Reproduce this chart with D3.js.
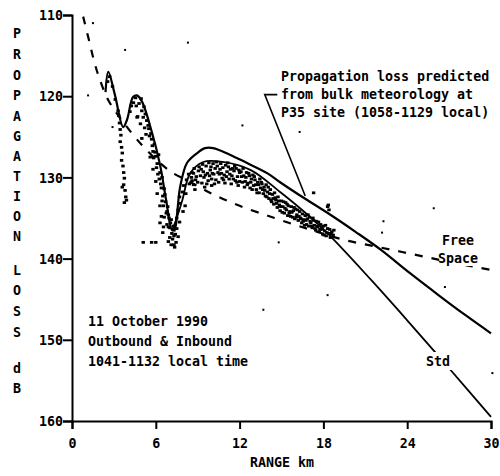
<!DOCTYPE html>
<html><head><meta charset="utf-8">
<script src="https://cdn.jsdelivr.net/npm/d3@7"></script>
<style>
html,body{margin:0;padding:0;background:#fff;}
text{font-family:"DejaVu Sans Mono","Liberation Mono",monospace;font-weight:bold;fill:#000;}
</style></head>
<body><svg id="chart" width="500" height="476"></svg>
<script>
// ---- data (range km, propagation loss dB) ----
const xTicks = [0, 6, 12, 18, 24, 30];
const yTicks = [110, 120, 130, 140, 150, 160];
const yTitle = "PROPAGATION LOSS dB";
const xTitle = "RANGE km";

const predicted = [[2.4,119.5],[2.6,117.0],[3.08,119.9],[3.66,123.8],[3.94,122.9],[4.37,120.1],[4.66,119.9],[5.02,120.7],[5.73,124.5],[6.31,128.5],[6.74,132.8],[7.17,136.5],[7.38,136.2],[7.53,134.4],[7.74,131.2],[8.24,128.2],[8.96,127.0],[9.53,126.4],[10.1,126.4],[11.3,127.2],[12.5,128.2],[14.0,129.5],[14.9,130.6],[16.3,132.2],[18.5,134.6],[20.3,136.7],[22.1,138.9],[24.2,141.8],[26.4,144.7],[28.2,147.0],[30.0,149.2]];

const standard = [[7.17,136.5],[7.5,135.0],[7.9,132.8],[8.46,129.5],[9.4,128.1],[10.8,128.1],[12.8,129.1],[14.9,131.8],[16.6,134.2],[18.3,136.9],[21.4,142.6],[24.0,147.6],[27.0,153.5],[30.0,159.5]];

const freeSpace = [[0.8,110.2],[1.2,113.0],[1.6,115.8],[2.0,118.0],[2.6,120.5],[3.5,122.8],[5.0,126.0],[7.0,129.2],[8.5,130.6],[10.0,132.0],[12.0,133.5],[14.5,135.0],[17.0,136.4],[19.5,137.7],[22.0,138.6],[24.5,139.5],[27.0,140.4],[30.0,141.4]];

const measured = [
[3.35,122.4],[3.4,123.3],[3.45,124.1],[3.5,124.8],[3.45,125.6],[3.55,126.3],[3.6,127.0],[3.55,127.9],[3.65,128.6],[3.7,129.4],[3.75,130.1],[3.7,130.9],[3.8,131.6],[3.85,132.4],[3.75,133.1],[3.9,132.8],[3.6,131.2],
[2.55,118.2],[2.7,117.6],[2.9,118.8],[3.1,120.4],[3.3,121.8],
[4.4,120.8],[4.6,121.2],[4.8,120.9],[5.0,121.8],[5.1,122.6],[4.9,123.4],[5.2,123.9],[4.7,122.5],[5.3,124.7],[5.0,125.2],[4.66,122.6],
[5.5,124.0],[5.7,125.3],[5.9,125.9],[5.8,126.8],[6.0,127.4],[6.2,127.2],[6.1,128.3],[6.3,129.4],[6.45,130.0],[6.35,130.8],[6.6,131.4],[6.5,132.3],[6.7,133.0],[6.85,133.6],[6.75,134.4],[6.95,135.0],[7.05,135.6],[6.9,136.1],[7.15,136.9],[7.3,137.2],[7.0,137.4],[7.25,136.0],[7.4,137.0],[6.8,135.8],[6.6,134.9],
[5.6,127.5],[5.8,129.0],[6.0,130.5],[6.1,132.0],[6.3,133.5],[6.4,134.8],[6.55,136.1],
[6.3,135.6],[6.5,136.8],[6.9,137.9],[7.1,138.3],[7.45,138.0],[7.6,137.3],[7.5,136.3],[7.7,135.5],[7.35,138.6],
[5.1,138.0],[5.7,138.0],[6.0,138.0],[7.3,138.3],
[5.35,123.0],[5.45,123.6],[5.55,124.9],[5.65,124.6],[5.75,126.1],[5.85,127.6],[5.95,126.9],[6.05,128.8],[6.15,129.6],[6.25,130.2],[6.4,131.3],[6.45,132.9],[6.55,133.5],[6.65,132.1],[6.8,134.2],[6.9,134.6],[7.0,136.2],[7.1,135.2],[7.2,137.6],[7.3,136.5],[4.95,120.3],[5.15,121.3],[5.25,122.2],[4.55,120.2],[4.25,121.2],[4.15,121.9],
[7.5,135.0],[7.6,134.0],[7.75,133.2],[7.7,132.4],[7.9,131.8],[8.0,131.0],[8.15,132.0],[8.2,130.3],[8.4,130.8],[8.1,133.5],[8.35,129.6],[8.6,130.4],[8.7,129.5],[7.95,134.2],
[8.6,129.4],[8.7,130.9],[8.8,131.5],[8.9,129.9],[9.0,130.6],[8.75,128.9],
[9.1,128.7],[9.2,129.8],[9.3,130.7],[9.35,128.4],[9.4,129.3],[9.5,131.2],[9.45,130.0],
[9.6,128.6],[9.7,129.5],[9.75,130.4],[9.8,128.2],[9.9,129.1],[10.0,130.2],[9.95,128.7],[10.0,131.0],
[10.1,128.3],[10.15,129.6],[10.25,128.9],[10.3,130.3],[10.35,128.1],[10.45,129.4],[10.5,130.6],[10.4,128.6],
[10.6,129.0],[10.65,128.3],[10.75,130.1],[10.8,128.8],[10.9,129.7],[11.0,128.5],[10.95,130.7],
[11.1,129.3],[11.2,128.7],[11.25,130.2],[11.35,129.0],[11.4,130.8],[11.5,128.9],[11.45,129.8],
[11.6,129.2],[11.7,130.4],[11.75,128.9],[11.85,129.9],[11.9,131.0],[12.0,129.4],[12.0,130.5],
[12.1,129.3],[12.2,130.6],[12.3,129.8],[12.35,131.2],[12.45,130.0],[12.5,129.4],
[12.6,130.7],[12.7,129.8],[12.75,131.3],[12.85,130.2],[12.95,129.7],[13.0,131.0],
[13.1,130.3],[13.2,131.5],[13.3,130.6],[13.4,131.9],[13.45,130.2],[13.5,131.3],
[13.6,130.8],[13.7,132.0],[13.75,131.2],[13.85,132.3],[13.9,130.9],[14.0,131.8],
[14.1,132.6],[14.2,131.5],[14.3,133.0],[14.35,132.1],[14.45,133.3],[14.5,131.9],
[14.6,132.8],[14.7,133.7],[14.75,132.4],[14.85,133.4],[14.9,134.1],[15.0,132.9],
[15.1,133.6],[15.2,134.4],[15.3,133.1],[15.35,134.0],[15.45,134.7],[15.5,133.5],
[15.6,134.2],[15.7,133.6],[15.8,134.9],[15.85,134.1],[15.95,135.1],[16.0,133.9],
[16.1,134.6],[16.2,135.3],[16.3,134.2],[16.35,135.0],[16.45,135.6],[16.5,134.5],
[16.6,135.2],[16.7,134.7],[16.8,135.8],[16.85,135.1],[16.95,136.0],[17.0,134.9],
[17.1,135.6],[17.2,136.2],[17.3,135.3],[17.35,135.9],[17.45,136.5],[17.5,135.4],
[17.6,136.1],[17.7,136.7],[17.8,135.8],[17.85,136.4],[17.95,137.0],[18.0,136.0],
[18.1,136.6],[18.2,137.2],[18.3,136.3],[18.4,136.9],[18.5,137.4],[18.6,136.7],[18.7,137.1],
[17.3,131.9],[18.35,133.4],[18.4,134.0],[18.3,133.6],
[8.55,130.0],[8.85,130.3],[9.05,129.2],[9.25,129.0],[9.55,129.7],[9.65,130.8],[9.85,129.8],[10.05,129.5],[10.2,130.8],[10.55,129.6],[10.7,129.5],[10.85,130.3],[11.05,129.9],[11.15,128.2],[11.3,129.6],[11.55,130.2],[11.65,128.6],[11.8,130.6],[11.95,129.1],[12.15,129.9],[12.25,128.9],[12.4,130.5],[12.55,130.9],[12.65,129.5],[12.8,130.6],[12.9,131.5],[13.05,129.9],[13.15,130.9],[13.25,131.9],[13.35,130.9],[13.55,130.6],[13.65,131.5],[13.8,131.6],[13.95,132.4],[14.05,131.2],[14.15,132.0],[14.25,132.8],[14.4,132.6],[14.55,132.5],[14.65,133.2],[14.8,132.9],[14.95,133.6],[15.05,134.3],[15.15,133.0],[15.25,133.8],[15.4,133.3],[15.55,134.4],[15.65,134.8],[15.75,134.3],[15.9,133.7],[16.05,134.9],[16.15,134.0],[16.25,134.8],[16.4,135.1],[16.55,135.4],[16.65,135.9],[16.75,135.3],[16.9,134.6],[17.05,135.4],[17.15,136.0],[17.25,135.0],[17.4,136.3],[17.55,136.0],[17.65,135.5],[17.75,136.4],[17.9,136.2],[18.05,137.1],[18.15,135.9],[18.25,136.8],[18.45,136.4],[18.55,137.0],[18.75,136.5]
];

const strays = [[12.2,123.6],[16.3,124.4],[25.9,133.8],[22.2,136.8],[14.8,138.0],[13.7,146.3],[18.3,144.5],[26.7,143.5],[30.1,154.1],[22.3,135.4],[8.3,113.4],[3.8,114.3],[1.5,111.0],[1.15,119.9],[2.9,123.8]];

const leader = [[14.7,119.8],[13.8,119.8],[16.7,132.3]];

const noteLines = ["Propagation loss predicted", "from bulk meteorology at", "P35 site (1058-1129 local)"];
const dateLines = ["11 October 1990", "Outbound & Inbound", "1041-1132 local time"];

// ---- drawing ----
const svg = d3.select("#chart");
const x = d3.scaleLinear().domain([0, 30]).range([72, 491]);
const y = d3.scaleLinear().domain([110, 160]).range([15, 421]);

const line = d3.line().x(d => x(d[0])).y(d => y(d[1])).curve(d3.curveCatmullRom.alpha(0.5));

// axes
const xAxis = d3.axisBottom(x).tickValues(xTicks).tickSize(8).tickFormat(d3.format("d"));
const gx = svg.append("g").attr("transform", `translate(0,${y(160)})`).call(xAxis);
const yAxis = d3.axisLeft(y).tickValues(yTicks).tickSize(9).tickFormat(d3.format("d"));
const gy = svg.append("g").attr("transform", `translate(${x(0)},0)`).call(yAxis);
[gx, gy].forEach(g => {
  g.select(".domain").attr("stroke", "#000").attr("stroke-width", 2);
  g.selectAll(".tick line").attr("stroke", "#000").attr("stroke-width", 2);
  g.selectAll(".tick text").attr("font-size", 13.3).attr("font-family", "DejaVu Sans Mono").attr("font-weight", "bold").attr("fill", "#000");
});
gx.selectAll(".tick text").attr("dy", null).attr("y", 27);
gy.selectAll(".tick text").attr("x", -9).attr("dy", "0.35em");

// measured data
svg.append("g").selectAll("rect").data(measured).join("rect")
  .attr("x", d => x(d[0]) - 1.7).attr("y", d => y(d[1]) - 1.4)
  .attr("width", 3.4).attr("height", 2.8).attr("fill", "#000");
svg.append("g").selectAll("rect").data(strays).join("rect")
  .attr("x", d => x(d[0]) - 1).attr("y", d => y(d[1]) - 1)
  .attr("width", 2).attr("height", 2).attr("fill", "#000");

// curves
svg.append("path").datum(freeSpace).attr("d", line).attr("fill", "none")
  .attr("stroke", "#000").attr("stroke-width", 2.2).attr("stroke-dasharray", "8,9");
svg.append("path").datum(predicted).attr("d", line).attr("fill", "none")
  .attr("stroke", "#000").attr("stroke-width", 2.2);
svg.append("path").datum(standard).attr("d", line).attr("fill", "none")
  .attr("stroke", "#000").attr("stroke-width", 1.8);
svg.append("path").datum(leader).attr("d", d3.line().x(d => x(d[0])).y(d => y(d[1])))
  .attr("fill", "none").attr("stroke", "#000").attr("stroke-width", 1.6);

// labels
const fs = 13.3;
svg.append("rect").attr("x", 424).attr("y", 352).attr("width", 30).attr("height", 18).attr("fill", "#fff");
svg.append("text").attr("x", 426).attr("y", 366).attr("font-size", fs).text("Std");
svg.append("rect").attr("x", 440).attr("y", 250).attr("width", 42).attr("height", 16).attr("fill", "#fff");
svg.append("text").attr("x", 442).attr("y", 245).attr("font-size", fs).text("Free");
svg.append("text").attr("x", 438).attr("y", 263).attr("font-size", fs).text("Space");

svg.append("g").selectAll("text").data(noteLines).join("text")
  .attr("x", 281).attr("y", (d, i) => 81 + i * 18).attr("font-size", fs).text(d => d);
svg.append("g").selectAll("text").data(dateLines).join("text")
  .attr("x", 88).attr("y", (d, i) => 326 + i * 20).attr("font-size", fs).text(d => d);

// y title stacked letters
const letterY = [33,54,75,95,116,136,156,176,196,216,236, 270,290,311,332, 368,388];
const letters = yTitle.replace(/ /g, "").split("");
svg.append("g").selectAll("text").data(letters).join("text")
  .attr("x", 17).attr("y", (d, i) => letterY[i] + 5).attr("text-anchor", "middle")
  .attr("font-size", fs).text(d => d);

svg.append("text").attr("x", 282).attr("y", 467).attr("text-anchor", "middle")
  .attr("font-size", fs).text(xTitle);
</script></body></html>
